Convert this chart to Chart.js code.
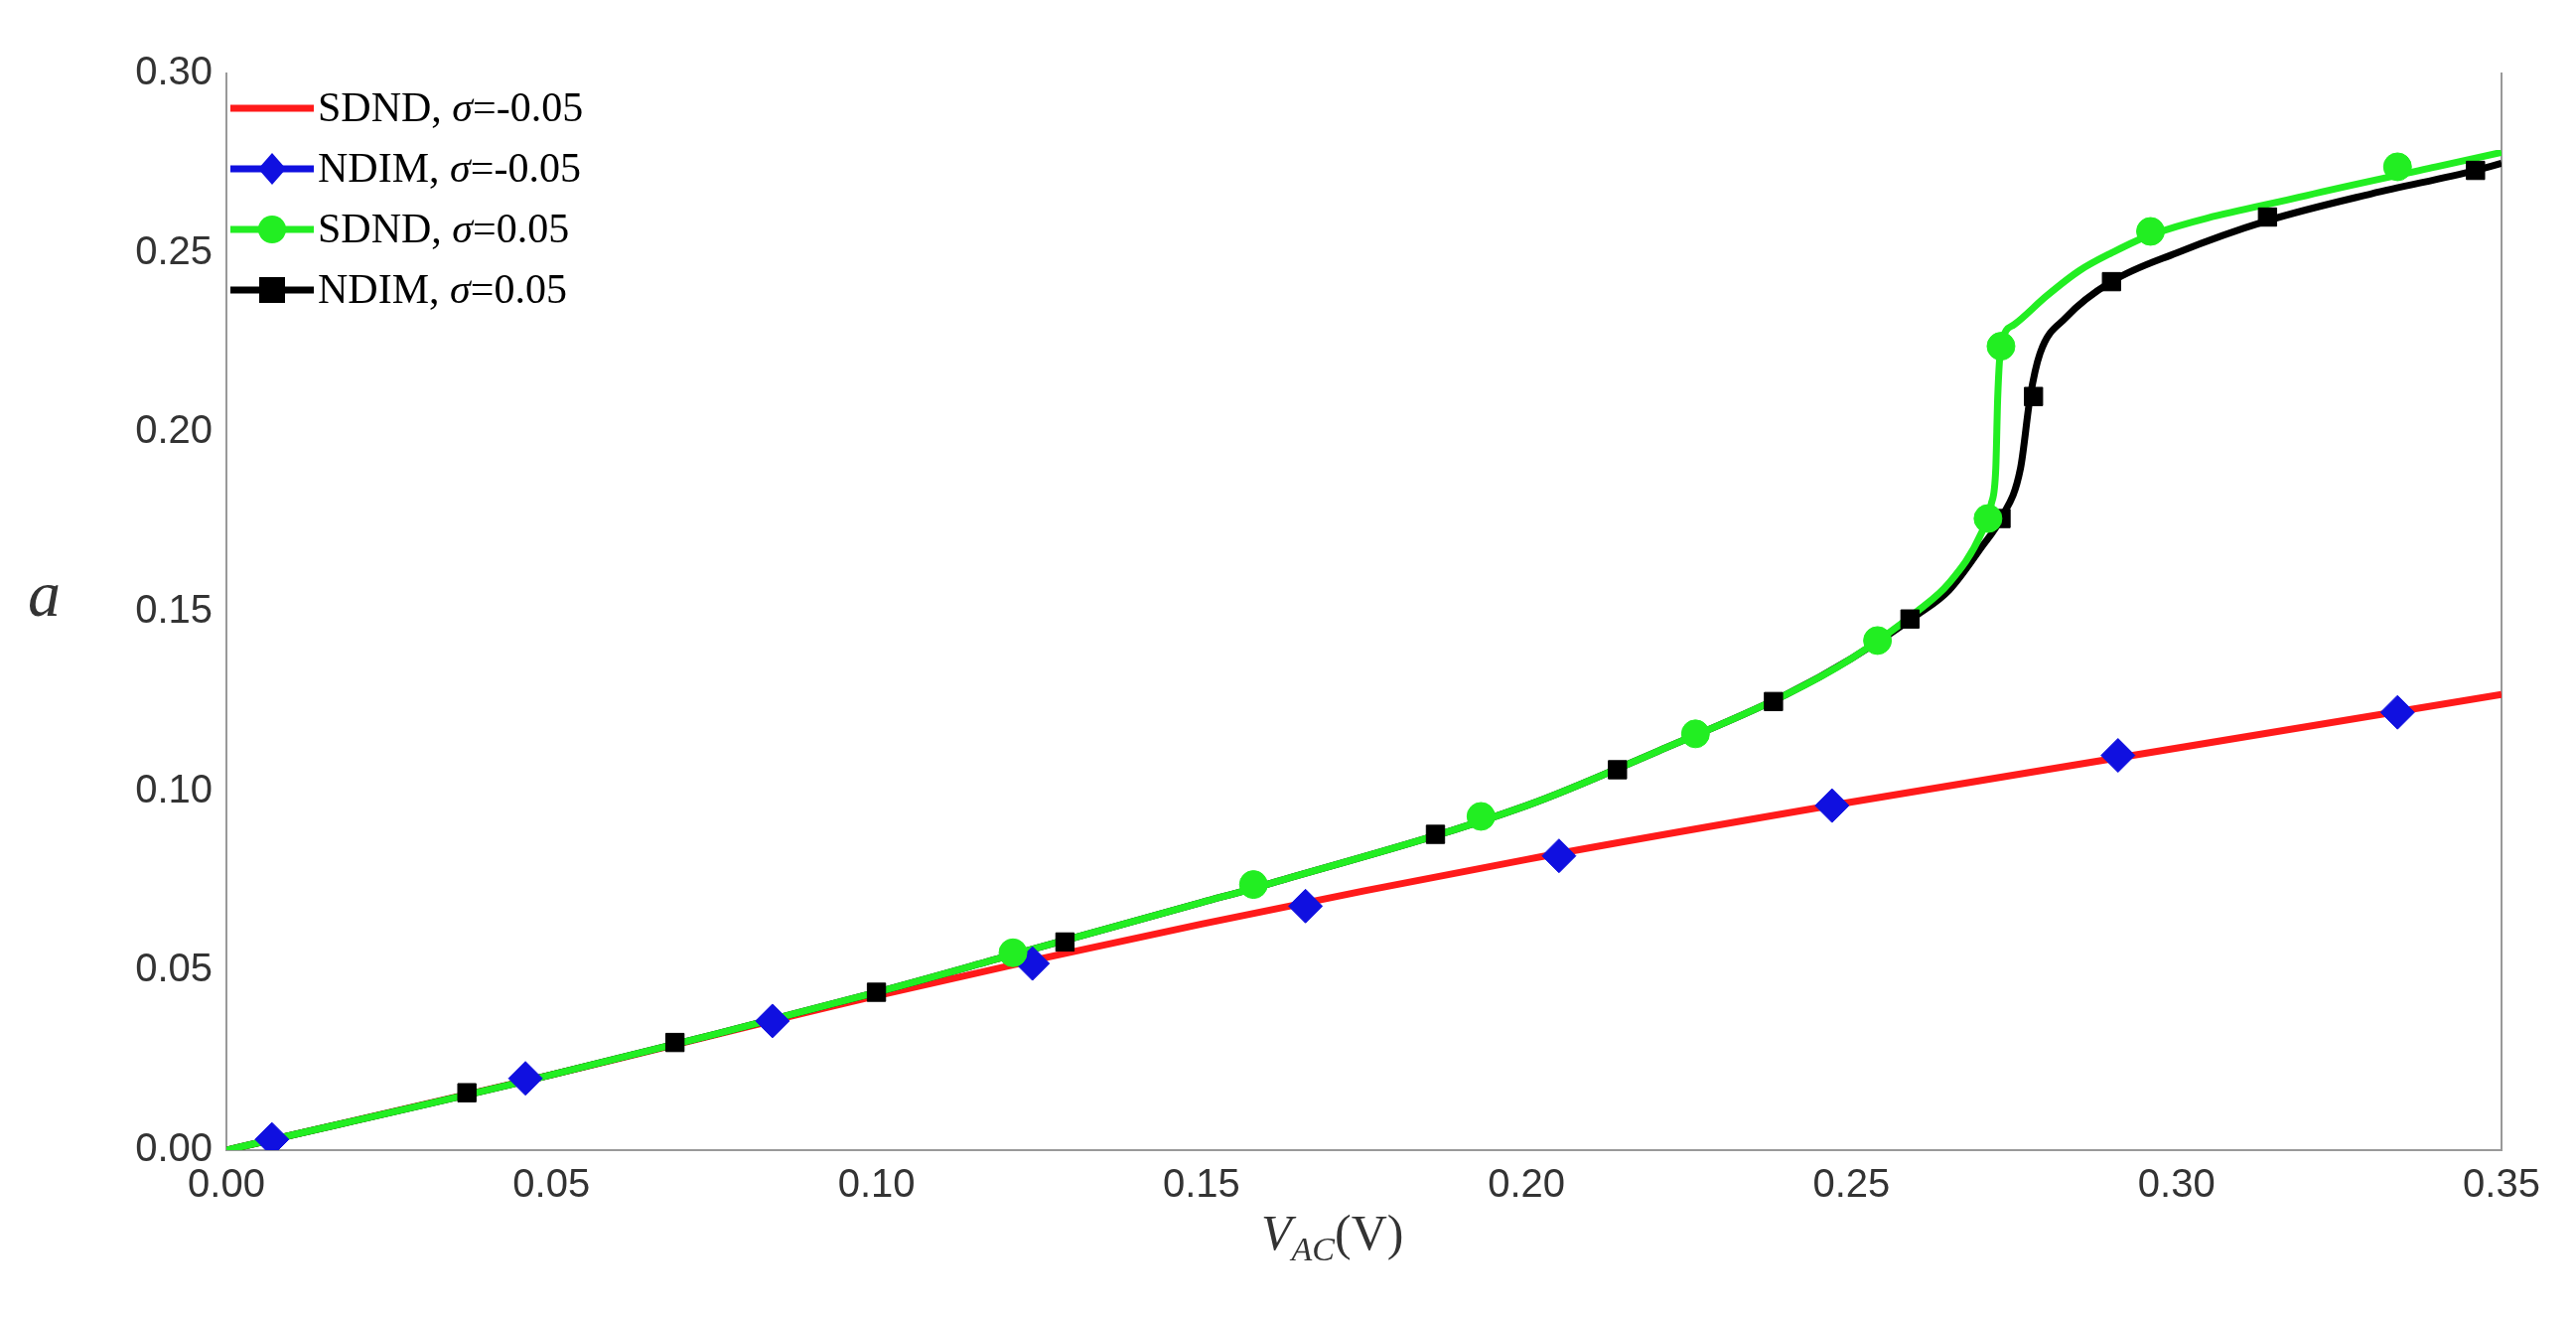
<!DOCTYPE html>
<html><head><meta charset="utf-8">
<script src="https://cdn.jsdelivr.net/npm/chart.js@4"></script>
<style>
html,body{margin:0;padding:0;background:#fff;}
#wrap{position:relative;width:2594px;height:1328px;}
#legend{position:absolute;left:232px;top:78px;font-family:"Liberation Serif",serif;font-size:42px;line-height:61px;color:#000;}
#legend div{display:flex;align-items:center;white-space:pre;}
#legend svg{margin-right:4px;}
.ttl{position:absolute;font-family:"Liberation Serif",serif;font-style:italic;color:#333;}
</style></head><body>
<div id="wrap">
<canvas id="c" width="2594" height="1328"></canvas>
<div id="legend">
<div><svg width="84" height="32"><line x1="0" y1="16" x2="84" y2="16" stroke="#ff1a1a" stroke-width="7"/></svg>SDND, <i>σ</i>=-0.05</div>
<div><svg width="84" height="32"><line x1="0" y1="16" x2="84" y2="16" stroke="#1010e0" stroke-width="7"/><polygon points="42,0 56,16 42,32 28,16" fill="#1010e0"/></svg>NDIM, <i>σ</i>=-0.05</div>
<div><svg width="84" height="32"><line x1="0" y1="16" x2="84" y2="16" stroke="#22ee22" stroke-width="7"/><circle cx="42" cy="16" r="14" fill="#22ee22"/></svg>SDND, <i>σ</i>=0.05</div>
<div><svg width="84" height="32"><line x1="0" y1="16" x2="84" y2="16" stroke="#000" stroke-width="7"/><rect x="29" y="3" width="26" height="26" fill="#000"/></svg>NDIM, <i>σ</i>=0.05</div>
</div>
<div class="ttl" style="left:28px;top:560px;font-size:66px;">a</div>
<div class="ttl" style="left:1270px;top:1212px;font-size:50px;">V<sub style="font-size:34px">AC</sub><span style="font-style:normal">(V)</span></div>
</div>
<script>
const xTicks=[0,0.05,0.10,0.15,0.20,0.25,0.30,0.35];
const yTicks=[0,0.05,0.10,0.15,0.20,0.25,0.30];
const redX=[0,0.05,0.10,0.15,0.20,0.25,0.30,0.35];
const redY=[0,0.021,0.043,0.063,0.081,0.097,0.112,0.127];
const blueX=[0.007,0.046,0.084,0.124,0.166,0.205,0.247,0.291,0.334];
const blueY=[0.003,0.020,0.036,0.052,0.068,0.082,0.096,0.110,0.122];
const greenX=[0,0.05,0.10,0.12,0.15,0.16,0.20,0.22,0.24,0.25,0.26,0.265,0.27,0.2715,0.2722,0.2725,0.273,0.275,0.28,0.285,0.29,0.296,0.32,0.34,0.35];
const greenY=[0,0.021,0.044,0.054,0.069,0.074,0.096,0.111,0.127,0.137,0.150,0.158,0.172,0.180,0.19,0.21,0.224,0.230,0.238,0.245,0.250,0.255,0.266,0.274,0.278];
const greenMX=[0.121,0.158,0.193,0.226,0.254,0.271,0.273,0.296,0.334];
const greenMY=[0.055,0.074,0.093,0.116,0.142,0.176,0.224,0.256,0.274];
const blackX=[0,0.05,0.10,0.12,0.15,0.16,0.20,0.22,0.24,0.25,0.26,0.265,0.27,0.273,0.276,0.2775,0.279,0.283,0.29,0.30,0.314,0.33,0.346,0.35];
const blackY=[0,0.021,0.044,0.054,0.069,0.074,0.096,0.111,0.127,0.137,0.149,0.156,0.168,0.176,0.19,0.21,0.222,0.232,0.242,0.250,0.259,0.2665,0.273,0.275];
const blackMX=[0.037,0.069,0.100,0.129,0.186,0.214,0.238,0.259,0.273,0.278,0.290,0.314,0.346];
const blackMY=[0.016,0.030,0.044,0.058,0.088,0.106,0.125,0.148,0.176,0.210,0.242,0.260,0.273];
const pts=(xs,ys)=>xs.map((x,i)=>({x:x,y:ys[i]}));
const line=(xs,ys,c)=>({data:pts(xs,ys),showLine:true,borderColor:c,borderWidth:7,pointRadius:0,cubicInterpolationMode:'monotone'});
const mk=(xs,ys,c,s,r)=>({data:pts(xs,ys),showLine:false,backgroundColor:c,borderColor:c,pointStyle:s,pointRadius:r});
new Chart(document.getElementById('c'),{
 type:'scatter',
 data:{datasets:[
  mk(greenMX,greenMY,'#22ee22','circle',14),
  mk(blackMX,blackMY,'#000','rect',13),
  mk(blueX,blueY,'#1010e0','rectRot',17),
  line(greenX,greenY,'#22ee22'),
  line(blackX,blackY,'#000'),
  line(redX,redY,'#ff1a1a')
 ]},
 options:{responsive:false,animation:false,
  layout:{padding:{top:74,right:75,left:0,bottom:0}},
  plugins:{legend:{display:false},tooltip:{enabled:false}},
  scales:{
   x:{type:'linear',min:0,max:0.35,afterBuildTicks:a=>{a.ticks=xTicks.map(v=>({value:v}));},
      afterFit:a=>{a.height=170;},
      grid:{display:false,drawTicks:false},border:{color:'#999',width:2},
      ticks:{padding:12,color:'#333',font:{family:'Liberation Sans',size:40},callback:v=>v.toFixed(2)}},
   y:{min:0,max:0.30,afterBuildTicks:a=>{a.ticks=yTicks.map(v=>({value:v}));},
      afterFit:a=>{a.width=228;},
      grid:{display:false,drawTicks:false},border:{color:'#999',width:2},
      ticks:{padding:14,color:'#333',font:{family:'Liberation Sans',size:40},callback:v=>v.toFixed(2)}},
   y2:{position:'right',min:0,max:0.30,afterFit:a=>{a.width=0;},
      grid:{display:false,drawTicks:false},border:{color:'#999',width:2},ticks:{display:false}}
  }}
});
</script></body></html>
